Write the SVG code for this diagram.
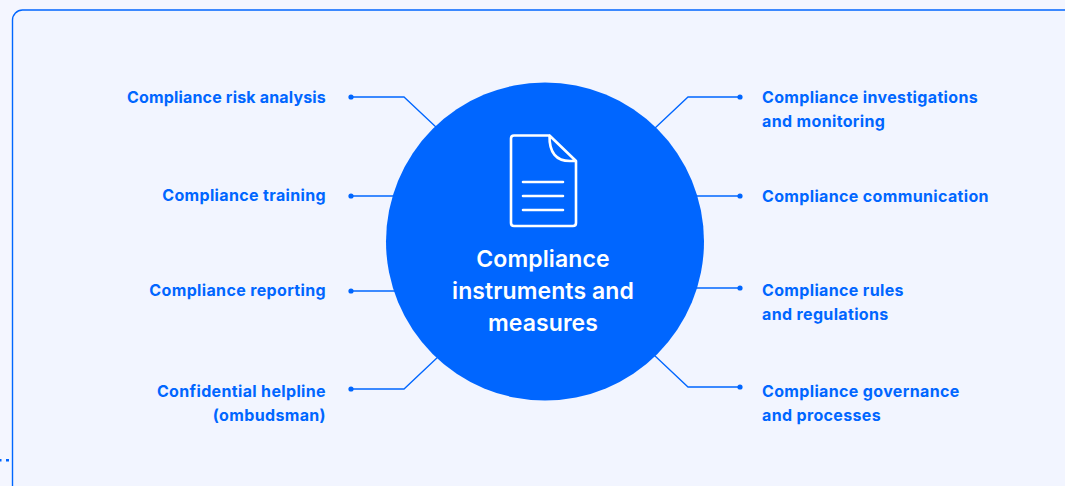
<svg xmlns="http://www.w3.org/2000/svg" width="1065" height="486" viewBox="0 0 1065 486">
<style>
.l{font-family:Inter,"Liberation Sans",sans-serif;font-size:16px;font-weight:700;letter-spacing:.35px;fill:#0066ff}
.e{text-anchor:end}
.c{font-family:Inter,"Liberation Sans",sans-serif;font-size:23px;font-weight:600;letter-spacing:.1px;fill:#fff;text-anchor:middle}
.w{fill:none;stroke:#0066ff;stroke-width:1.3}
.d{fill:#0066ff}
.i{fill:none;stroke:#fff;stroke-width:2.6;stroke-linejoin:round;stroke-linecap:round}
</style>
<rect width="1065" height="486" fill="#f4f6ff"/>
<rect id="panel" x="12.500" y="10" width="1100" height="520" rx="10" fill="#f2f5ff" stroke="#0066ff" stroke-width="1.4"/>
<g id="dots" class="d"><rect x="0" y="459" width="1.500" height="2.500"/><rect x="6" y="459" width="3" height="2.500"/></g>
<g id="connectors">
<path class="w" d="M351 97H404L437 128"/><circle class="d" cx="351" cy="97" r="2.600"/>
<path class="w" d="M351 196H396"/><circle class="d" cx="351" cy="196" r="2.600"/>
<path class="w" d="M351 291H396"/><circle class="d" cx="351" cy="291" r="2.600"/>
<path class="w" d="M351 389H404L439 356"/><circle class="d" cx="351" cy="389" r="2.600"/>
<path class="w" d="M740 97H688L654 129"/><circle class="d" cx="740" cy="97" r="2.600"/>
<path class="w" d="M740 196H696"/><circle class="d" cx="740" cy="196" r="2.600"/>
<path class="w" d="M740 288H696"/><circle class="d" cx="740" cy="288" r="2.600"/>
<path class="w" d="M740 387H688L654 355"/><circle class="d" cx="740" cy="387" r="2.600"/>
</g>
<g id="center">
<circle cx="545" cy="241.500" r="159" fill="#0066ff"/>
<path class="i" d="M549.500 135.500H514Q511 135.500 511 138.500V223Q511 226 514 226H573Q576 226 576 223V161L549.500 135.500Q549 161 570 161H576"/>
<path class="i" d="M523 182H563M523 196H563M523 210H563"/>
<text class="c" x="543" y="267">Compliance</text>
<text class="c" x="543" y="299">instruments and</text>
<text class="c" x="543" y="331">measures</text>
</g>
<g id="n1"><text class="l e" x="326" y="102.500" style="letter-spacing:.17px">Compliance risk analysis</text></g>
<g id="n2"><text class="l e" x="326" y="201">Compliance training</text></g>
<g id="n3"><text class="l e" x="326" y="296">Compliance reporting</text></g>
<g id="n4"><text class="l e" x="326" y="396.500">Confidential helpline</text><text class="l e" x="326" y="421">(ombudsman)</text></g>
<g id="n5"><text class="l" x="762" y="102.500">Compliance investigations</text><text class="l" x="762" y="127">and monitoring</text></g>
<g id="n6"><text class="l" x="762" y="201.500">Compliance communication</text></g>
<g id="n7"><text class="l" x="762" y="296">Compliance rules</text><text class="l" x="762" y="320">and regulations</text></g>
<g id="n8"><text class="l" x="762" y="397">Compliance governance</text><text class="l" x="762" y="421">and processes</text></g>
</svg>
